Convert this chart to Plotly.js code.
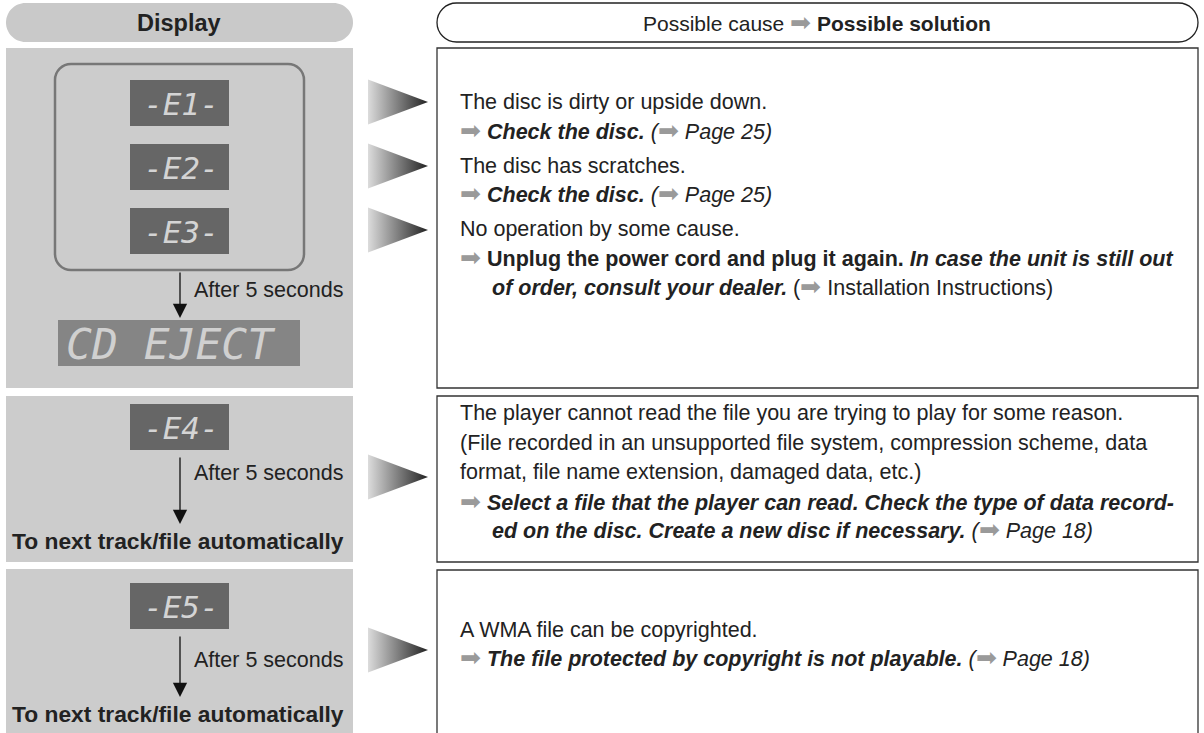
<!DOCTYPE html>
<html>
<head>
<meta charset="utf-8">
<script src="https://cdn.plot.ly/plotly-3.0.1.min.js"></script>
<style>html,body{margin:0;padding:0;background:#fff;}#chart{width:1204px;height:733px;}</style>
</head>
<body>
<div id="chart"></div>
<script>
// ---- content ----
const headerLeft = 'Display';
const headerRightCause = 'Possible cause';
const headerRightSolution = 'Possible solution';
const displayCodes = ['-E1-', '-E2-', '-E3-', '-E4-', '-E5-'];
const ejectLabel = 'CD EJECT';
const afterLabel = 'After 5 seconds';
const nextLabel = 'To next track/file automatically';
const ARROW = '➡';

// right-hand text, one entry per line
const box1Lines = [
  ['cause', 'The disc is dirty or upside down.'],
  ['sol', 'Check the disc.', 'Page 25'],
  ['cause', 'The disc has scratches.'],
  ['sol', 'Check the disc.', 'Page 25'],
  ['cause', 'No operation by some cause.'],
  ['raw', 'ARROW <b>Unplug the power cord and plug it again.</b> <b><i>In case the unit is still out</i></b>'],
  ['rawIndent', '<b><i>of order, consult your dealer.</i></b> (ARROW Installation Instructions)']
];
const box2Lines = [
  ['cause', 'The player cannot read the file you are trying to play for some reason.'],
  ['cause', '(File recorded in an unsupported file system, compression scheme, data'],
  ['cause', 'format, file name extension, damaged data, etc.)'],
  ['raw', 'ARROW <b><i>Select a file that the player can read. Check the type of data record-</i></b>'],
  ['rawIndent', '<b><i>ed on the disc. Create a new disc if necessary.</i></b> <i>(ARROW Page 18)</i>']
];
const box3Lines = [
  ['cause', 'A WMA file can be copyrighted.'],
  ['sol', 'The file protected by copyright is not playable.', 'Page 18']
];

// ---- layout constants ----
const W = 1204, H = 733;
const FONT = 'Liberation Sans, Arial, Helvetica, sans-serif';
const MONO = 'DejaVu Sans Mono, monospace';
const arr = `<span style="color:#9a9a9a;font-size:25px;font-style:normal">${ARROW}</span>`;

function rr(x0, y0, x1, y1, r) {
  const k = 0.5523 * r;
  return `M${x0 + r},${y0} L${x1 - r},${y0} C${x1 - r + k},${y0} ${x1},${y0 + r - k} ${x1},${y0 + r} ` +
    `L${x1},${y1 - r} C${x1},${y1 - r + k} ${x1 - r + k},${y1} ${x1 - r},${y1} ` +
    `L${x0 + r},${y1} C${x0 + r - k},${y1} ${x0},${y1 - r + k} ${x0},${y1 - r} ` +
    `L${x0},${y0 + r} C${x0},${y0 + r - k} ${x0 + r - k},${y0} ${x0 + r},${y0} Z`;
}

const shapes = [];
const annotations = [];
const traces = [];

// header pills
shapes.push({type: 'path', xref: 'x', yref: 'y', path: rr(6, 3, 353, 42, 19.5), fillcolor: '#c9c9c9', line: {width: 0}});
shapes.push({type: 'path', xref: 'x', yref: 'y', path: rr(437, 3, 1198, 42, 19.5), fillcolor: '#ffffff', line: {color: '#222', width: 1.3}});
annotations.push({x: 179, y: 23, xref: 'x', yref: 'y', text: `<b>${headerLeft}</b>`, showarrow: false,
  font: {family: FONT, size: 23.5, color: '#222'}, xanchor: 'center', yanchor: 'middle'});
annotations.push({x: 817, y: 22, xref: 'x', yref: 'y', text: `${headerRightCause} ${arr} <b>${headerRightSolution}</b>`, showarrow: false,
  font: {family: FONT, size: 21, color: '#222'}, xanchor: 'center', yanchor: 'middle'});

// left panels
const panels = [[48, 388], [396, 562], [569, 740]];
panels.forEach(p => shapes.push({type: 'rect', xref: 'x', yref: 'y', x0: 6, x1: 353, y0: p[0], y1: p[1], fillcolor: '#cccccc', line: {width: 0}, layer: 'below'}));
// right boxes
const boxes = [[48, 388], [396, 562], [570, 745]];
boxes.forEach(p => shapes.push({type: 'rect', xref: 'x', yref: 'y', x0: 437, x1: 1198, y0: p[0], y1: p[1], fillcolor: 'rgba(0,0,0,0)', line: {color: '#333', width: 1.3}}));

// rounded group outline for E1-E3
shapes.push({type: 'path', xref: 'x', yref: 'y', path: rr(55, 64, 304, 270, 16), fillcolor: 'rgba(0,0,0,0)', line: {color: '#777', width: 2.5}});

// display boxes
const dispY = [[80, 126], [144, 190], [208, 254], [404, 450], [583, 629]];
displayCodes.forEach((c, i) => {
  const [y0, y1] = dispY[i];
  shapes.push({type: 'rect', xref: 'x', yref: 'y', x0: 130, x1: 229, y0: y0, y1: y1, fillcolor: '#666666', line: {width: 0}});
  annotations.push({x: 181, y: (y0 + y1) / 2 + 1, xref: 'x', yref: 'y', text: `<i>${c}</i>`, showarrow: false,
    font: {family: MONO, size: 31, color: '#d4d4d4'}, xanchor: 'center', yanchor: 'middle'});
});
// CD EJECT
shapes.push({type: 'rect', xref: 'x', yref: 'y', x0: 58, x1: 300, y0: 320, y1: 366, fillcolor: '#858585', line: {width: 0}});
annotations.push({x: 170, y: 344, xref: 'x', yref: 'y', text: `<i>${ejectLabel}</i>`, showarrow: false,
  font: {family: MONO, size: 43, color: '#d0d0d0'}, xanchor: 'center', yanchor: 'middle'});

// down arrows + labels
const downArrows = [[271, 318, 290], [456, 524, 473], [635, 697, 660]];
downArrows.forEach(a => {
  annotations.push({x: 180, y: a[1], ax: 180, ay: a[0], xref: 'x', yref: 'y', axref: 'x', ayref: 'y', text: '',
    showarrow: true, arrowhead: 2, arrowsize: 2.2, arrowwidth: 1.3, arrowcolor: '#111'});
  annotations.push({x: 192, y: a[2], xref: 'x', yref: 'y', text: afterLabel, showarrow: false,
    font: {family: FONT, size: 21.5, color: '#222'}, xanchor: 'left', yanchor: 'middle'});
});
[541, 714].forEach(y => annotations.push({x: 10, y: y, xref: 'x', yref: 'y', text: `<b>${nextLabel}</b>`, showarrow: false,
  font: {family: FONT, size: 22.8, color: '#222'}, xanchor: 'left', yanchor: 'middle'}));

// gradient pointer triangles
const tips = [102, 166, 230, 477, 650];
tips.forEach(t => traces.push({
  type: 'scatter', x: [368, 428, 368, 368], y: [t - 22.5, t, t + 22.5, t - 22.5], mode: 'none', fill: 'toself',
  fillgradient: {type: 'horizontal', colorscale: [[0, '#dcdcdc'], [1, '#222222']]},
  hoverinfo: 'skip', showlegend: false
}));

// right text
function fmt(line) {
  const [kind, a, b] = line;
  if (kind === 'cause') return a;
  if (kind === 'sol') return `${arr} <b><i>${a}</i></b> <i>(${arr} ${b})</i>`;
  return a.replace(/ARROW/g, arr);
}
function placeLines(lines, ys) {
  lines.forEach((ln, i) => {
    const shift = ln[0] === 'cause' ? 0 : -1.5;
    annotations.push({x: ln[0] === 'rawIndent' ? 490 : 458, y: ys[i] + shift, xref: 'x', yref: 'y', text: fmt(ln), showarrow: false,
      font: {family: FONT, size: 21.5, color: '#222'}, xanchor: 'left', yanchor: 'middle'});
  });
}
placeLines(box1Lines, [102, 131, 166, 194, 229, 258, 287]);
placeLines(box2Lines, [413, 443, 472, 502, 530]);
placeLines(box3Lines, [630, 658]);

const layout = {
  width: W, height: H, margin: {l: 0, r: 0, t: 0, b: 0},
  paper_bgcolor: '#fff', plot_bgcolor: '#fff', showlegend: false,
  xaxis: {range: [0, W], visible: false, fixedrange: true},
  yaxis: {range: [H, 0], visible: false, fixedrange: true},
  shapes: shapes, annotations: annotations
};
Plotly.newPlot('chart', traces, layout, {staticPlot: true, displayModeBar: false});
</script>
</body>
</html>
